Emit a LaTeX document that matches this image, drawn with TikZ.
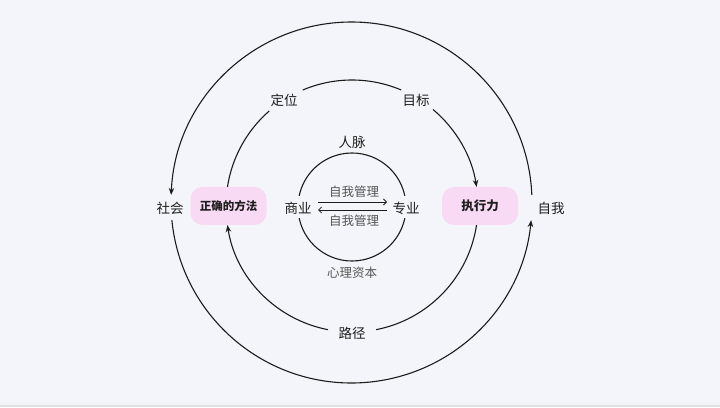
\documentclass[tikz,border=0pt]{standalone}
\usepackage{fontspec}
\newfontfamily\cjk{Noto Sans CJK SC}
\usetikzlibrary{arrows.meta}
\definecolor{bg}{HTML}{F4F5FA}
\definecolor{ln}{HTML}{1C1C1C}
\definecolor{tx}{HTML}{1E1E1E}
\definecolor{gtx}{HTML}{555555}
\definecolor{pinkbox}{HTML}{F8DAF4}
\begin{document}
\begin{tikzpicture}[x=1pt,y=1pt,
  lab/.style={font=\cjk\fontsize{13.5}{16}\selectfont, text=tx, inner sep=1pt},
  glab/.style={font=\cjk\fontsize{12.5}{15}\selectfont, text=gtx, inner sep=1pt},
  pbox/.style={fill=pinkbox, rounded corners=12pt, minimum width=76pt, minimum height=38pt, inner sep=0pt, text=tx},
  ring/.style={draw=ln, line width=1.1pt},
  arr/.style={ring, -{Stealth[length=7pt,width=5.5pt]}},
  barb/.style={draw=ln, line width=0.8pt, -{Straight Barb[length=3pt,width=6pt]}}
]
\useasboundingbox (0,0) rectangle (720,407);
\fill[bg] (0,0) rectangle (720,407);
\fill[black!12] (0,0) rectangle (720,2);

% centres
\coordinate (O1) at (351.5,204.5);
\coordinate (O2) at (352,201);
\coordinate (O3) at (352,200);

% labels
\node[lab] (shehui) at (170,199) {社会};
\node[lab] (ziwo) at (551,199) {自我};
\node[lab] (dingwei) at (284,307) {定位};
\node[lab] (mubiao) at (416,307) {目标};
\node[lab] (lujing) at (352,74) {路径};
\node[lab] (renmai) at (352,265) {人脉};
\node[glab] (xinli) at (352,134) {心理资本};
\node[lab] (shangye) at (298,199) {商业};
\node[lab] (zhuanye) at (406,199) {专业};
\node[glab] (zw1) at (354,215.5) {自我管理};
\node[glab] (zw2) at (354,186) {自我管理};

\node[pbox, font=\cjk\bfseries\fontsize{11.5}{14}\selectfont] (fangfa) at (228.5,201) {正确的方法};
\node[pbox, font=\cjk\bfseries\fontsize{12.5}{15}\selectfont] (zhixing) at (480,201) {执行力};

% outer ring
\draw[arr] (O1) ++(2.4:180.5) arc[start angle=2.4, end angle=177.6, radius=180.5];
\draw[arr] (O1) ++(185.6:180.5) arc[start angle=185.6, end angle=354.4, radius=180.5];

% middle ring
\draw[ring] (O2) ++(113:126) arc[start angle=113, end angle=67, radius=126];
\draw[arr] (O2) ++(50:126) arc[start angle=50, end angle=8.7, radius=126];
\draw[ring] (O2) ++(131:126) arc[start angle=131, end angle=171.3, radius=126];
\draw[ring] (O2) ++(-8.7:126) arc[start angle=-8.7, end angle=-79, radius=126];
\draw[arr] (O2) ++(-101:126) arc[start angle=-101, end angle=-171.3, radius=126];

% inner ring
\draw[ring] (O3) ++(12:54) arc[start angle=12, end angle=168, radius=54];
\draw[ring] (O3) ++(192:54) arc[start angle=192, end angle=348, radius=54];

% inner arrows
\coordinate (a1) at (318,205);
\coordinate (a2) at (387,205);
\coordinate (b1) at (387,197);
\coordinate (b2) at (318,197);
\draw[barb] (a1) -- (a2);
\draw[barb] (b1) -- (b2);
\end{tikzpicture}
\end{document}
